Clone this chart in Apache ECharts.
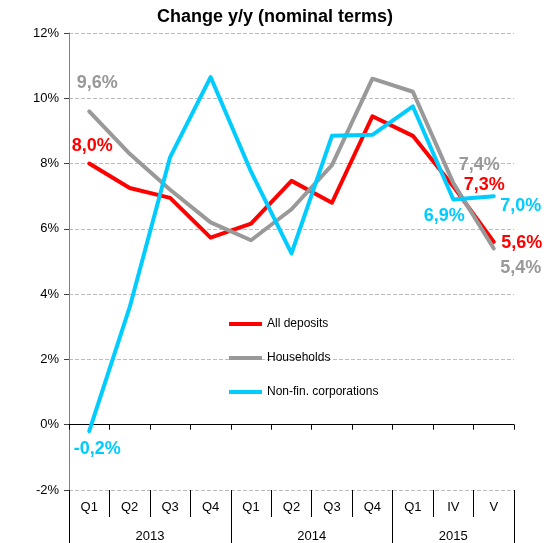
<!DOCTYPE html>
<html>
<head>
    <meta charset="utf-8">
    <script src="https://cdn.jsdelivr.net/npm/echarts@6/dist/echarts.min.js"></script>
</head>
<body style="margin:0">
    <div id="main" style="width: 544px;height:543px;"></div>
    <script type="text/javascript">
        // categories and values
        var quarters = ['Q1', 'Q2', 'Q3', 'Q4', 'Q1', 'Q2', 'Q3', 'Q4', 'Q1', 'IV', 'V'];
        var years = ['2013', '2014', '2015'];
        var yearMid = [2, 6, 9.5];
        var yearEdges = [0, 4, 8, 11];

        var allDeposits = [8.0, 7.25, 6.95, 5.73, 6.16, 7.47, 6.8, 9.45, 8.85, 7.3, 5.6];
        var households = [9.6, 8.3, 7.2, 6.2, 5.65, 6.6, 7.95, 10.6, 10.2, 7.4, 5.4];
        var nonFin = [-0.2, 3.6, 8.2, 10.65, 7.75, 5.25, 8.85, 8.88, 9.75, 6.9, 7.0];

        var RED = '#ff0000', GRAY = '#999999', CYAN = '#00ccff';

        // which points carry a value label, and where (offset from the point)
        function withLabels(values, color, labelled) {
            return values.map(function (v, i) {
                var item = {value: v};
                if (labelled[i]) {
                    item.label = {
                        show: true,
                        position: 'inside',
                        offset: labelled[i],
                        color: color,
                        fontSize: 18,
                        fontWeight: 'bold',
                        fontFamily: 'Arial, Liberation Sans',
                        formatter: function (p) {
                            return p.value.toFixed(1).replace('.', ',') + '%';
                        }
                    };
                }
                return item;
            });
        }

        function lineSeries(name, values, color, labelled) {
            return {
                name: name,
                type: 'line',
                xAxisIndex: 0,
                yAxisIndex: 0,
                symbol: 'circle',
                symbolSize: 0.1,
                showSymbol: true,
                itemStyle: {color: color},
                lineStyle: {color: color, width: 4, cap: 'round', join: 'round'},
                label: {show: false},
                emphasis: {disabled: true},
                data: withLabels(values, color, labelled),
                z: 3
            };
        }

        var option = {
            animation: false,
            title: {
                text: 'Change y/y (nominal terms)',
                left: 157,
                top: 8,
                padding: 0,
                textStyle: {fontSize: 18, fontWeight: 'bold', color: '#000', fontFamily: 'Arial, Liberation Sans'}
            },
            legend: {
                orient: 'vertical',
                left: 229,
                top: 317,
                padding: 0,
                itemWidth: 33,
                itemHeight: 4,
                itemGap: 20,
                icon: 'rect',
                textStyle: {fontSize: 12, color: '#000', fontFamily: 'Arial, Liberation Sans', lineHeight: 14},
                data: ['All deposits', 'Households', 'Non-fin. corporations']
            },
            grid: {left: 69, right: 30, top: 33, bottom: 53},
            xAxis: [
                {
                    type: 'category',
                    data: quarters,
                    position: 'bottom',
                    axisLine: {onZero: true, lineStyle: {color: '#000', width: 1}},
                    axisTick: {show: true, length: 5, lineStyle: {color: '#000'}},
                    axisLabel: {show: false},
                    splitLine: {show: false}
                },
                {
                    type: 'category',
                    data: quarters,
                    position: 'bottom',
                    axisLine: {show: false, onZero: false},
                    axisTick: {show: true, length: 27, lineStyle: {color: '#000'}},
                    axisLabel: {margin: 11, fontSize: 13, color: '#000', fontFamily: 'Arial, Liberation Sans'},
                    splitLine: {show: false}
                },
                {
                    type: 'value',
                    min: 0,
                    max: 11,
                    position: 'bottom',
                    axisLine: {show: false, onZero: false},
                    axisTick: {show: true, length: 60, customValues: yearEdges, lineStyle: {color: '#000'}},
                    axisLabel: {
                        margin: 40,
                        fontSize: 13,
                        color: '#000',
                        fontFamily: 'Arial, Liberation Sans',
                        customValues: yearMid,
                        formatter: function (v) {
                            return years[yearMid.indexOf(v)];
                        }
                    },
                    splitLine: {show: false}
                }
            ],
            yAxis: {
                type: 'value',
                min: -2,
                max: 12,
                interval: 2,
                axisLine: {show: true, lineStyle: {color: '#808080', width: 1}},
                axisTick: {show: true, length: 5, lineStyle: {color: '#404040'}},
                axisLabel: {
                    formatter: '{value}%',
                    margin: 10,
                    fontSize: 13,
                    color: '#000',
                    fontFamily: 'Arial, Liberation Sans'
                },
                splitLine: {show: true, lineStyle: {color: '#bdbdbd', type: 'dashed', width: 1}}
            },
            series: [
                lineSeries('All deposits', allDeposits, RED,
                    {0: [3, -18], 9: [31, -1], 10: [28, 1]}),
                lineSeries('Households', households, GRAY,
                    {0: [8, -28], 9: [26, -18], 10: [27, 20]}),
                lineSeries('Non-fin. corporations', nonFin, CYAN,
                    {0: [8, 18], 9: [-9, 17], 10: [27, 10]})
            ]
        };

        var myChart = echarts.init(document.getElementById('main'));
        myChart.setOption(option);
    </script>
</body>
</html>
